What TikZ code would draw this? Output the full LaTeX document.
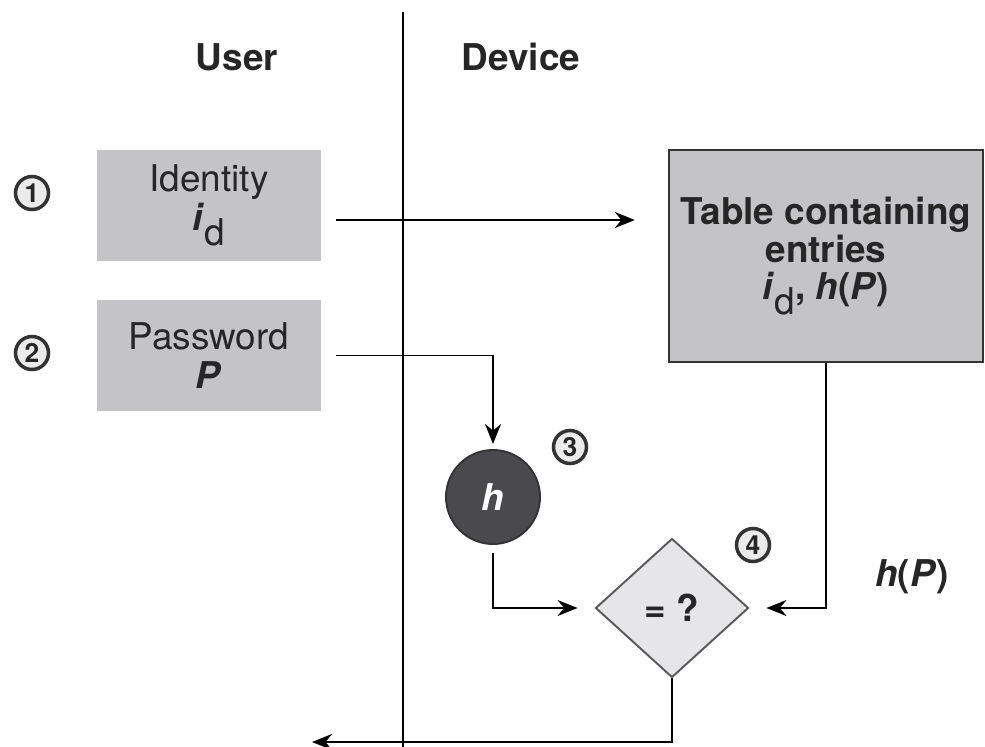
\documentclass[tikz,border=0pt]{standalone}
\usepackage{fontspec}
\setmainfont{TeX Gyre Heros}
\usetikzlibrary{shapes.geometric,arrows.meta}
\definecolor{boxgray}{HTML}{C4C4C6}
\definecolor{hashgray}{HTML}{4A4A4C}
\definecolor{testgray}{HTML}{E6E6E8}
\newcommand\idsym{\textbf{\textit{i}}\raisebox{-0.4em}{\normalfont d}}

\begin{document}
\begin{tikzpicture}[x=0.2mm, y=-0.2mm, line width=1.1pt,
    every node/.style = {font=\fontsize{21}{22}\selectfont, align=center, text=black!85},
    entry/.style = {rectangle, fill=boxgray, minimum width=44.8mm, minimum height=22.2mm},
    num/.style = {circle, draw=black!80, line width=2pt, fill=black!8, minimum size=6.6mm,
                  inner sep=0pt, font=\fontsize{15}{15}\selectfont\bfseries},
    arr/.style = {-{Stealth[length=4mm, width=3.2mm]}}]
  \useasboundingbox (0,0) rectangle (985,747);

  % lanes
  \coordinate (top) at (403,12);
  \coordinate (bot) at (403,747);
  \draw (top) -- (bot);
  \node[font=\fontsize{21}{22}\selectfont\bfseries] (user) at (237,57) {User};
  \node[font=\fontsize{21}{22}\selectfont\bfseries] (device) at (521,57) {Device};

  % boxes
  \node[entry] (id) at (209,205.5) {Identity\\ \idsym};
  \node[entry] (pw) at (209,355.5) {Password\\ \textbf{\textit{P}}};
  \node[rectangle, draw=black!80, line width=1.3pt, fill=boxgray, minimum width=62.8mm,
        minimum height=42.4mm, font=\fontsize{21}{21.5}\selectfont\bfseries]
        (tbl) at (826,256) {Table containing\\entries\\\idsym, \textit{h}(\textit{P})};
  \node[circle, fill=hashgray, draw=black!80, minimum size=18.8mm, text=white,
        font=\fontsize{21}{22}\selectfont\bfseries\itshape] (hh) at (493,497) {h};
  \node[diamond, fill=testgray, draw=black!65, minimum width=30.6mm, minimum height=27.8mm,
        inner sep=0pt, font=\fontsize{21}{22}\selectfont\bfseries] (cmp) at (672,608) {= ?};
  \node[font=\fontsize{21}{22}\selectfont\bfseries] (hp) at (912,577) {\textit{h}(\textit{P})};

  % steps
  \node[num] (n1) at (32,193) {1};
  \node[num] (n2) at (32,353) {2};
  \node[num] (n3) at (570,447) {3};
  \node[num] (n4) at (753,545) {4};

  % flow
  \coordinate (out) at (312,742);
  \draw[arr, shorten <=2.8mm, shorten >=6.6mm] ([yshift=-2.9mm]id.east) -- ([yshift=-2.9mm]id.east -| tbl.west);
  \draw[arr, shorten <=2.8mm, shorten >=1mm] (pw.east) -| (hh.north);
  \draw[arr, shorten <=1.6mm, shorten >=3.4mm] (hh.south) |- (cmp.west);
  \draw[arr, shorten >=3.4mm] (tbl.south) |- (cmp.east);
  \draw[arr] (cmp.south) |- (out);
\end{tikzpicture}
\end{document}
